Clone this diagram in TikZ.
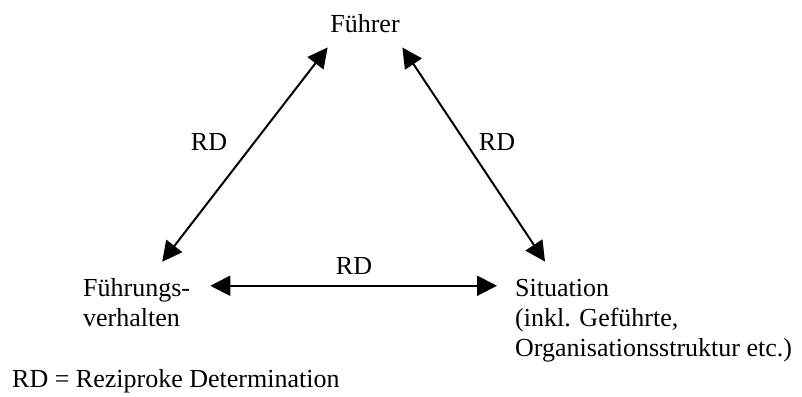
\documentclass[tikz,border=0pt]{standalone}
\usepackage{fontspec}
\setmainfont{Liberation Serif}
\usetikzlibrary{arrows.meta}

\tikzset{
    lbl/.style={inner sep=0pt, font=\fontsize{26}{30}\selectfont},
    rd/.style={line width=2pt, {Triangle[length=20pt,width=20pt]}-{Triangle[length=20pt,width=20pt]}}
}

\begin{document}
\begin{tikzpicture}[x=1pt, y=-1pt]

                    \useasboundingbox (0,0) rectangle (802,396);

                    \node[lbl, anchor=base] (fuehrer) at (365,33) {Führer};
                    \node[lbl, anchor=base west, align=left] (verhalten) at (83,326) {Führungs-\\verhalten};
                    \node[lbl, anchor=base west, align=left] (situation) at (515,356) {Situation\\(inkl. Geführte,\\Organisationsstruktur etc.)};

                    \draw[rd] ([xshift=25.5pt,yshift=16pt]verhalten.north) -- ([xshift=-2.5pt,yshift=-14pt]fuehrer.south west);
                    \draw[rd] ([xshift=30pt,yshift=17pt]situation.north west) -- ([xshift=2.5pt,yshift=-14pt]fuehrer.south east);
                    \draw[rd] ([xshift=20pt,yshift=-8pt]verhalten.north east) coordinate (h-l) -- ([xshift=-18pt]situation.west |- h-l);

                    \node[lbl, anchor=base] (rd-l) at (209,150) {RD};
                    \node[lbl, anchor=base] (rd-r) at (497,150) {RD};
                    \node[lbl, anchor=base] (rd-b) at (354,274) {RD};

                    \node[lbl, anchor=base west] (legende) at (12,387) {RD = Reziproke Determination};
                \end{tikzpicture}
\end{document}
